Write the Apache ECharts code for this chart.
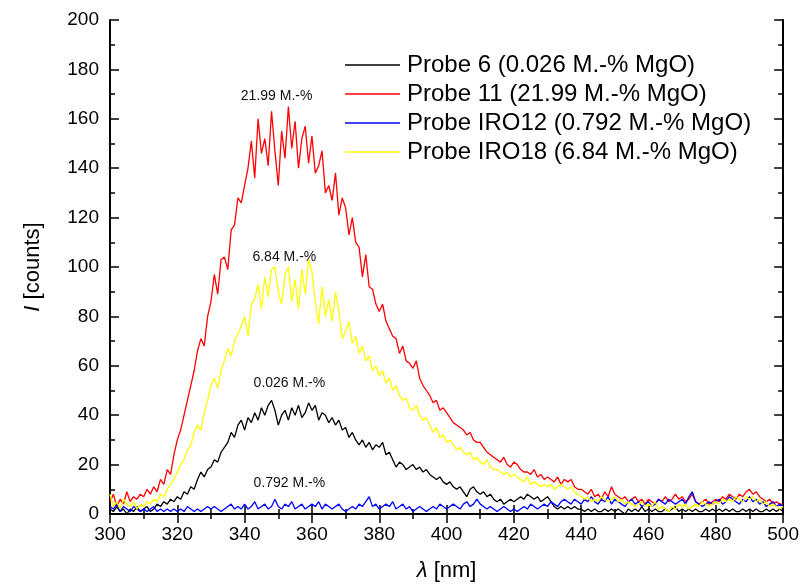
<!DOCTYPE html>
<html>
<head>
<meta charset="utf-8">
<script src="https://cdn.jsdelivr.net/npm/echarts@6/dist/echarts.min.js"></script>
<style>
html,body{margin:0;padding:0;background:#fff;}
#chart{width:802px;height:587px;}
</style>
</head>
<body>
<div id="chart"></div>
<script>
// Wavelength sampling (nm)
var WL_START = 300;
var WL_STEP = 1;

// Series names
var seriesNames = [
  'Probe 6 (0.026 M.-% MgO)',
  'Probe 11 (21.99 M.-% MgO)',
  'Probe IRO12 (0.792 M.-% MgO)',
  'Probe IRO18 (6.84 M.-% MgO)'
];

// Probe 6 (black), 300..500 nm
var probe6 = [
  2,1,3,1,2,0,2,1,3,1,
  2,3,1,2,4,3,5,4,6,5,
  7,6,9,8,11,10,14,17,15,18,
  19,22,21,25,27,29,33,31,36,38,
  34,39,37,41,38,43,40,44,46,42,
  36,40,42,38,43,40,44,39,41,45,
  42,44,38,41,40,37,39,36,38,34,
  35,31,33,30,28,30,27,29,26,28,
  27,29,24,25,22,19,21,20,18,19,
  20,18,19,17,18,16,15,14,15,13,
  12,13,11,10,11,9,7,10,11,9,
  8,9,7,8,6,5,6,4,5,6,
  5,6,7,6,8,7,6,7,5,6,
  7,5,3,2,3,2,3,2,3,2,
  2,1,2,1,2,1,1,2,1,2,
  1,2,1,0,2,1,2,1,3,1,
  2,1,2,1,1,2,1,2,3,1,
  2,1,2,1,2,1,1,2,1,2,
  1,2,1,2,1,2,1,1,2,1,
  2,1,2,1,1,2,1,2,1,2,
  1
];

// Probe 11 (red)
var probe11 = [
  5,8,3,6,4,9,5,7,6,8,
  7,10,8,11,9,14,12,18,16,24,
  30,34,40,46,52,58,66,71,68,80,
  86,97,89,103,104,99,115,117,128,126,
  133,140,151,136,160,146,152,141,163,147,
  133,155,144,165,148,159,140,152,157,142,
  153,138,141,147,130,133,127,138,121,128,
  124,113,120,110,108,96,105,92,91,85,
  82,85,78,75,72,71,65,68,62,61,
  59,62,55,52,50,48,45,46,42,43,
  41,39,37,36,35,34,32,33,30,29,
  29,27,25,24,23,22,21,23,20,19,
  21,20,18,17,17,16,18,15,16,14,
  15,14,13,15,12,14,13,14,11,10,
  10,9,8,10,7,8,6,9,7,11,
  8,7,6,7,5,6,7,5,6,4,
  6,5,4,6,5,7,5,6,8,6,
  7,5,6,8,5,4,5,6,4,5,
  6,5,7,6,8,7,6,8,7,9,
  10,8,9,7,6,5,6,4,5,4,
  4
];

// Probe IRO12 (blue)
var probeIRO12 = [
  3,2,4,1,3,2,1,3,2,1,
  2,1,2,3,1,2,1,2,1,2,
  1,2,1,3,2,1,2,1,2,3,
  2,3,2,1,2,3,4,2,3,2,
  4,2,3,5,2,3,4,2,3,6,
  3,2,4,3,5,2,3,4,2,3,
  4,3,5,2,4,3,2,3,4,2,
  1,2,3,2,4,3,5,7,3,4,
  2,3,4,3,5,2,3,4,2,3,
  1,2,3,2,1,2,3,2,4,3,
  2,3,4,3,2,4,5,3,4,6,
  4,3,2,3,2,1,2,3,2,1,
  2,1,2,3,2,4,3,2,3,4,
  3,5,4,3,5,6,5,4,6,5,
  4,6,5,7,5,4,6,5,7,4,
  6,5,4,3,5,6,4,5,3,4,
  5,3,4,6,5,4,6,5,4,5,
  6,4,7,9,5,4,3,4,5,4,
  5,6,4,5,7,6,5,4,6,5,
  7,5,6,4,5,3,4,5,3,4,
  3
];

// Probe IRO18 (yellow)
var probeIRO18 = [
  8,3,5,2,6,4,3,5,2,4,
  3,5,4,6,5,8,7,10,12,14,
  17,20,22,26,28,33,36,34,41,46,
  52,55,51,58,62,67,64,70,73,76,
  80,72,85,87,93,83,96,88,99,100,
  90,85,97,100,86,95,83,99,89,103,
  98,86,77,92,80,87,78,90,82,71,
  74,78,69,72,65,68,62,64,58,60,
  56,58,53,55,50,52,48,46,47,43,
  42,44,40,38,39,36,33,35,31,32,
  29,30,28,26,27,25,24,25,22,23,
  21,20,22,19,18,18,17,16,17,15,
  16,15,14,13,15,12,13,12,11,12,
  11,12,10,11,12,11,10,11,9,8,
  7,6,7,5,6,5,7,6,5,6,
  7,5,6,4,5,4,3,4,5,3,
  4,3,5,2,3,2,1,3,2,4,
  3,4,2,3,4,3,5,4,3,4,
  5,4,6,5,6,5,7,6,5,7,
  6,7,5,6,4,5,3,4,3,2,
  3
];

// Annotations: [wavelength, intensity, text]
var annotations = [
  [349.5, 169, '21.99 M.-%'],
  [351.8, 104, '6.84 M.-%'],
  [353.3, 53, '0.026 M.-%'],
  [353.3, 12.6, '0.792 M.-%']
];

var xTicks = {min: 300, max: 500, interval: 20};
var yTicks = {min: 0, max: 200, interval: 20};

function pairs(arr) {
  var out = [];
  for (var i = 0; i < arr.length; i++) out.push([WL_START + i * WL_STEP, arr[i]]);
  return out;
}

var FONT = 'Liberation Sans, Arial, Helvetica, sans-serif';
var colors = ['#000000', '#ff0000', '#0000ff', '#ffff00'];
var dataSets = [probe6, probe11, probeIRO12, probeIRO18];

var chart = echarts.init(document.getElementById('chart'), null, {renderer: 'canvas'});

var series = dataSets.map(function (d, k) {
  return {
    name: seriesNames[k],
    type: 'line',
    data: pairs(d),
    symbol: 'none',
    showSymbol: false,
    animation: false,
    lineStyle: {color: colors[k], width: 1.3},
    itemStyle: {color: colors[k]},
    z: 2 + k
  };
});

series.push({
  type: 'scatter',
  data: [],
  silent: true,
  animation: false,
  markPoint: {
    symbol: 'circle',
    symbolSize: 1,
    itemStyle: {color: 'transparent'},
    label: {show: true, position: 'inside', color: '#111', fontSize: 14, fontFamily: FONT},
    data: annotations.map(function (a) {
      return {coord: [a[0], a[1]], label: {formatter: a[2]}};
    })
  }
});

function axisCommon() {
  return {
    axisLine: {show: true, lineStyle: {color: '#000', width: 2}},
    axisTick: {show: true, inside: true, length: 9, lineStyle: {color: '#000', width: 1.5}},
    minorTick: {show: true, splitNumber: 2, length: 5, lineStyle: {color: '#000', width: 1.5}},
    splitLine: {show: false},
    minorSplitLine: {show: false}
  };
}

var xBottom = Object.assign(axisCommon(), {
  type: 'value', position: 'bottom',
  min: xTicks.min, max: xTicks.max, interval: xTicks.interval,
  name: '{i|λ} [nm]', nameLocation: 'middle', nameGap: 46,
  nameTextStyle: {fontSize: 22, fontFamily: FONT, color: '#000',
    rich: {i: {fontStyle: 'italic', fontSize: 22, fontFamily: FONT, color: '#000'}}},
  axisLabel: {fontSize: 19, fontFamily: FONT, color: '#000', margin: 11}
});
var xTop = Object.assign(axisCommon(), {
  type: 'value', position: 'top',
  min: xTicks.min, max: xTicks.max, interval: xTicks.interval,
  axisLabel: {show: false}
});
var yLeft = Object.assign(axisCommon(), {
  type: 'value', position: 'left',
  min: yTicks.min, max: yTicks.max, interval: yTicks.interval,
  name: '{i|I} [counts]', nameLocation: 'middle', nameGap: 66, nameRotate: 90,
  nameTextStyle: {fontSize: 22, fontFamily: FONT, color: '#000',
    rich: {i: {fontStyle: 'italic', fontSize: 22, fontFamily: FONT, color: '#000'}}},
  axisLabel: {fontSize: 19, fontFamily: FONT, color: '#000', margin: 11}
});
var yRight = Object.assign(axisCommon(), {
  type: 'value', position: 'right',
  min: yTicks.min, max: yTicks.max, interval: yTicks.interval,
  axisLabel: {show: false}
});

chart.setOption({
  animation: false,
  backgroundColor: '#fff',
  grid: {left: 110, right: 18, top: 20, bottom: 70, containLabel: false},
  legend: {
    show: true,
    data: seriesNames.map(function (n, k) {
      return {name: n, icon: 'rect', itemStyle: {color: colors[k]}};
    }),
    orient: 'vertical',
    left: 345, top: 53,
    padding: 0,
    itemWidth: 55, itemHeight: 1.5, itemGap: 5,
    textStyle: {fontSize: 24, fontFamily: FONT, color: '#000', lineHeight: 24, padding: [0, 0, 0, 2]},
    selectedMode: false
  },
  xAxis: [xBottom, xTop],
  yAxis: [yLeft, yRight],
  series: series
});
</script>
</body>
</html>
